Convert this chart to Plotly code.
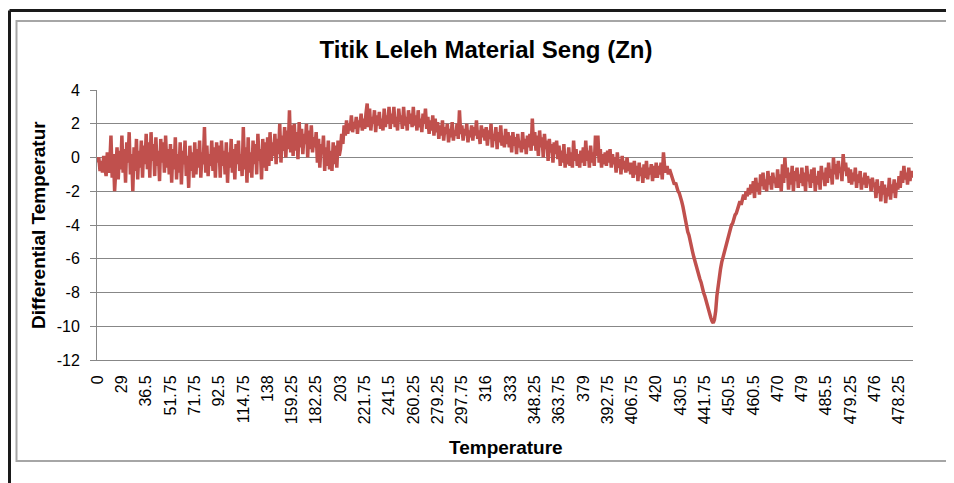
import plotly.graph_objects as go

# differential temperature, 20 samples per labelled step on the x axis
diff_temp = [
    -0.3, 0.0, -0.8, -0.2, -0.9, 0.1, -0.6, -1.1, 0.3, -0.9, -0.4, 1.3, -1.2, 0.2, -2.0, -0.5, 0.6, -1.3, 0.4, -0.7,
    1.3, -0.9, 0.5, -1.5, 0.9, -0.3, 1.5, -1.0, 0.2, -2.0, 0.6, -0.8, 1.1, -1.3, 0.4, -0.6, 1.0, -1.2, 0.7, -0.4,
    1.4, -0.7, 0.9, -1.2, 1.5, -0.2, 0.8, -1.1, 1.2, -0.5, 0.4, -1.4, 1.1, -0.3, 0.9, -0.9, 1.3, -0.6, 0.5, -1.0,
    0.8, -1.5, 0.5, -0.7, 1.2, -1.3, 0.2, -0.9, 0.9, -1.6, 0.4, -0.4, 1.0, -1.1, 0.1, -1.8, 0.7, -0.8, 0.3, -1.2,
    0.9, -1.0, 0.5, -0.6, 1.0, -1.2, 0.3, -0.4, 1.8, -0.9, 0.7, -1.1, 0.2, -0.5, 1.0, -0.8, 0.6, -1.2, 0.9, -0.3,
    0.7, -1.2, 1.0, -0.5, 0.4, -1.0, 0.9, -1.5, 0.3, -0.6, 1.1, -0.9, 0.5, -1.3, 0.8, -0.4, 1.0, -0.8, 0.2, -1.1,
    1.8, -0.7, 0.6, -1.5, 1.2, -0.9, 0.3, -1.2, 1.0, -0.4, 0.8, -1.0, 1.4, -0.2, 0.5, -1.3, 1.1, -0.6, 0.9, -0.8,
    1.2, -0.5, 1.5, -0.2, 0.9, 0.1, 1.4, -0.4, 1.1, 0.2, 2.0, -0.3, 1.3, 0.4, 1.8, 0.0, 1.6, 0.5, 2.8, 0.3,
    1.9, 0.1, 2.0, 0.4, 1.5, -0.1, 2.1, 0.6, 1.7, 0.2, 1.4, 0.8, 2.0, 0.0, 1.6, 0.5, 1.9, 0.3, 1.2, 0.6,
    1.5, -0.3, 1.1, -0.6, 0.8, 0.2, 1.3, -0.8, 0.6, -0.5, 1.0, -0.7, 0.4, -0.8, 0.9, -0.4, 0.7, -0.6, 1.0, 0.1,
    0.5, 1.4, 0.8, 1.9, 1.3, 2.2, 1.4, 2.0, 1.6, 2.5, 1.5, 2.1, 1.7, 2.4, 1.4, 2.2, 1.8, 2.6, 1.6, 2.3,
    1.7, 2.6, 3.2, 1.8, 2.9, 1.6, 2.4, 2.0, 2.8, 1.5, 2.5, 1.9, 2.7, 1.7, 2.3, 1.6, 2.9, 1.8, 2.5, 2.0,
    3.0, 1.7, 2.6, 2.0, 3.0, 1.8, 2.4, 1.6, 2.9, 2.1, 2.5, 1.7, 3.0, 1.9, 2.4, 1.6, 2.8, 2.0, 2.6, 1.8,
    3.0, 1.9, 2.5, 1.6, 2.8, 1.8, 2.3, 1.5, 2.6, 2.0, 2.9, 1.7, 2.4, 1.4, 2.2, 1.6, 2.5, 1.3, 2.3, 1.5,
    2.1, 1.1, 1.9, 1.3, 2.2, 1.0, 1.8, 1.4, 2.0, 0.9, 1.7, 1.2, 2.1, 1.0, 1.6, 1.3, 2.0, 1.1, 2.8, 1.4,
    1.9, 1.0, 1.7, 1.3, 2.0, 0.9, 1.6, 1.2, 1.9, 1.0, 1.8, 1.3, 2.2, 1.1, 1.6, 0.8, 1.9, 1.2, 1.7, 1.0,
    1.8, 0.7, 1.6, 1.1, 2.0, 0.6, 1.4, 1.0, 1.8, 0.5, 1.5, 0.9, 1.9, 0.7, 1.3, 0.6, 1.7, 0.8, 1.5, 0.6,
    1.3, 0.3, 1.5, 0.7, 1.2, 0.2, 1.4, 0.6, 1.0, 0.3, 1.5, 0.5, 1.1, 0.2, 1.3, 0.6, 1.4, 0.4, 2.3, 0.7,
    1.5, 0.4, 1.3, 0.1, 1.6, 0.6, 1.2, 0.0, 1.4, 0.5, 1.0, -0.2, 1.1, 0.3, 0.8, -0.3, 0.9, 0.2, 1.0, -0.1,
    0.7, -0.5, 0.4, -0.3, 0.8, -0.6, 0.2, -0.4, 0.6, -0.5, 0.3, -0.6, 1.0, -0.2, 0.5, -0.5, 0.2, -0.6, 0.4, -0.3,
    0.6, -0.5, 1.0, -0.2, 0.4, -0.6, 0.7, -0.3, 0.3, -0.5, 1.3, 0.1, 1.3, -0.3, 0.5, -0.6, 0.2, -0.4, 0.3, -0.5,
    0.4, -0.3, 0.5, -0.6, 0.2, -0.4, 0.0, -0.9, 0.3, -0.6, -0.1, -1.0, 0.1, -0.7, -0.2, -0.9, 0.0, -0.8, -0.3, -1.0,
    -0.3, -1.2, -0.2, -1.0, -0.5, -1.4, -0.3, -1.1, -0.6, -1.5, -0.4, -1.2, -0.2, -1.3, -0.6, -1.0, -0.4, -1.4, -0.5, -1.2,
    -0.3, -1.2, -0.5, -1.0, -0.3, -1.3, 0.3, -0.6, -0.9, -0.5, -1.0, -0.7, -0.9, -1.2, -1.4, -1.6, -1.5, -1.8, -2.0, -2.1,
    -2.3, -2.6, -2.9, -3.3, -3.8, -4.0, -4.4, -4.6, -5.0, -5.4, -5.6, -5.9, -6.2, -6.4, -6.7, -6.9, -7.2, -7.4, -7.8, -8.0,
    -8.2, -8.5, -8.7, -9.0, -9.2, -9.5, -9.7, -9.8, -9.6, -9.1, -8.2, -7.5, -7.0, -6.6, -6.2, -5.9, -5.6, -5.3, -5.0, -4.8,
    -4.6, -4.3, -4.0, -3.9, -3.6, -3.4, -3.3, -3.0, -2.9, -2.6, -2.8, -2.4, -2.2, -2.5, -2.0, -2.3, -1.8, -2.2, -1.6, -2.1,
    -1.4, -2.4, -1.2, -2.0, -1.5, -2.2, -1.0, -1.7, -0.9, -1.9, -1.3, -2.0, -0.8, -1.6, -1.1, -1.9, -0.9, -1.5, -1.2, -1.8,
    -0.7, -1.8, -1.0, -2.0, -0.4, -1.5, 0.0, -1.2, -0.6, -1.9, -0.9, -1.6, -0.5, -2.0, -0.8, -1.4, -0.6, -1.8, -1.0, -1.5,
    -0.6, -1.7, -0.9, -2.0, -0.5, -1.4, -1.0, -1.8, -0.7, -1.5, -0.6, -2.0, -1.1, -1.6, -0.8, -1.9, -0.5, -1.3, -0.9, -1.7,
    -0.6, -1.5, -0.3, -1.2, -0.7, -1.6, 0.0, -1.0, -0.4, -1.3, -0.2, -0.9, -0.6, -1.4, 0.2, -0.8, -0.3, -1.1, -0.6, -1.5,
    -0.7, -1.6, -0.9, -1.4, -0.6, -1.8, -1.0, -1.5, -0.8, -1.9, -1.2, -1.6, -0.9, -1.8, -1.1, -1.5, -1.3, -2.0, -1.2, -1.7,
    -1.5, -2.4, -1.3, -2.1, -1.7, -2.6, -1.4, -2.2, -1.6, -2.7, -1.8, -2.3, -1.2, -2.5, -1.6, -2.1, -1.3, -2.4, -1.5, -1.9,
    -1.1, -1.8, -0.8, -1.5, -0.5, -1.3, -0.9, -1.6, -0.6, -1.4, -0.8, -1.2,
]

temp_labels = [
    "0", "29", "36.5", "51.75", "71.75", "92.5", "114.75", "138", "159.25",
    "182.25", "203", "221.75", "241.5", "260.25", "279.25", "297.75", "316",
    "333", "348.25", "363.75", "379", "392.75", "406.75", "420", "430.5",
    "441.75", "450.5", "460.5", "470", "479", "485.5", "479.25", "476", "478.25",
]
label_step = 20

y_ticks = [4, 2, 0, -2, -4, -6, -8, -10, -12]

FONT = "Liberation Sans, Arial, sans-serif"
GRID = "#878787"

x = list(range(len(diff_temp)))

fig = go.Figure()
fig.add_trace(
    go.Scatter(
        x=x,
        y=diff_temp,
        mode="lines",
        line={"color": "#C0504D", "width": 3.5},
        showlegend=False,
    )
)

# the page body has an 8px margin, so the figure starts at (8, 8)
OFF = 8
W, H = 954 - OFF, 483 - OFF
# plot area spans window pixels x 97..913, y 90..360
L, T = 97 - OFF, 90 - OFF
R, B = W - (913 - OFF), H - (360 - OFF)
pw, ph = W - L - R, H - T - B


def px(v):
    return (v - OFF - L) / pw


def py(v):
    return (H - B - (v - OFF)) / ph


fig.update_xaxes(
    range=[-0.5, len(diff_temp) - 0.5],
    tickvals=[i * label_step for i in range(len(temp_labels))],
    ticktext=temp_labels,
    tickangle=-90,
    tickfont={"family": FONT, "size": 16, "color": "black"},
    showgrid=False,
    showline=True,
    linecolor=GRID,
    linewidth=1,
    zeroline=False,
    ticks="",
    ticklabelstandoff=8,
)
fig.update_yaxes(
    range=[-12, 4],
    tickvals=y_ticks,
    ticktext=[str(v) for v in y_ticks],
    tickfont={"family": FONT, "size": 16, "color": "black"},
    showgrid=True,
    gridcolor=GRID,
    gridwidth=1,
    showline=True,
    linecolor=GRID,
    linewidth=1,
    zeroline=False,
    ticks="outside",
    ticklen=6,
    tickcolor=GRID,
    ticklabelstandoff=7,
)

fig.update_layout(
    width=W,
    height=H,
    margin={"l": L, "r": R, "t": T, "b": B},
    paper_bgcolor="white",
    plot_bgcolor="white",
    title={
        "text": "<b>Titik Leleh Material Seng (Zn)</b>",
        "font": {"family": FONT, "size": 24, "color": "black"},
        "x": (486 - OFF) / W,
        "xanchor": "center",
        "y": 1 - (50 - OFF) / H,
        "yanchor": "middle",
    },
    annotations=[
        dict(
            text="<b>Temperature</b>",
            xref="paper", yref="paper",
            x=px(506), y=py(447),
            xanchor="center", yanchor="middle",
            showarrow=False,
            font={"family": FONT, "size": 19, "color": "black"},
        ),
        dict(
            text="<b>Differential Temperatur</b>",
            xref="paper", yref="paper",
            x=px(38), y=py(225),
            xanchor="center", yanchor="middle",
            textangle=-90,
            showarrow=False,
            font={"family": FONT, "size": 19, "color": "black"},
        ),
    ],
    shapes=[
        # inner grey chart border
        dict(type="rect", xref="paper", yref="paper",
             x0=px(16.5), x1=px(1000), y0=py(461), y1=py(21),
             line={"color": "#a6a6a6", "width": 2}, layer="below"),
        # outer black frame, top and left edges
        dict(type="line", xref="paper", yref="paper",
             x0=px(9.5), x1=px(1000), y0=py(10.5), y1=py(10.5),
             line={"color": "#1a1a1a", "width": 3}),
        dict(type="line", xref="paper", yref="paper",
             x0=px(9.5), x1=px(9.5), y0=py(10.5), y1=py(520),
             line={"color": "#1a1a1a", "width": 3}),
    ],
)

fig.write_html("out.html")
